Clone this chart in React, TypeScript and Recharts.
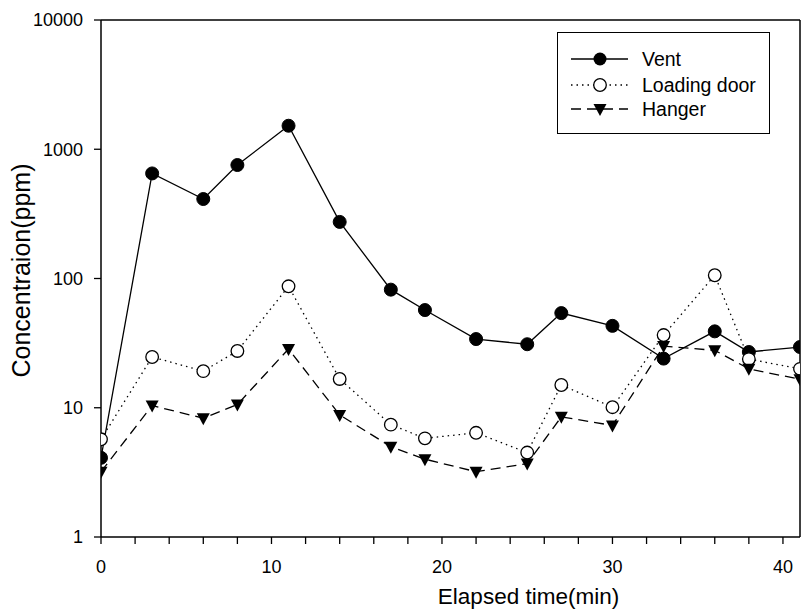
import {
  LineChart,
  Line,
  XAxis,
  YAxis,
  Legend,
  ReferenceLine,
} from "recharts";

const times = [0, 3, 6, 8, 11, 14, 17, 19, 22, 25, 27, 30, 33, 36, 38, 41];
const vent = [4.1, 650, 412, 755, 1520, 274, 82, 57, 34, 31, 54, 43, 24, 39, 27, 29.5];
const loadingDoor = [5.7, 24.7, 19.2, 27.5, 87, 16.7, 7.4, 5.8, 6.4, 4.5, 15, 10.1, 36.5, 106, 23.8, 20];
const hanger = [3.2, 10.4, 8.3, 10.6, 28.5, 8.8, 5.0, 4.0, 3.2, 3.7, 8.5, 7.3, 30, 27.8, 20, 16.6];

const xTicks = [0, 2, 4, 6, 8, 10, 12, 14, 16, 18, 20, 22, 24, 26, 28, 30, 32, 34, 36, 38, 40];
const yTicks = [1, 10, 100, 1000, 10000];

const data = times.map((t, i) => ({
  t,
  vent: vent[i],
  door: loadingDoor[i],
  hanger: hanger[i],
}));

const font = "'Liberation Sans', Arial, sans-serif";

const FilledDot = (p: any) => (
  <circle cx={p.cx} cy={p.cy} r={6.5} fill="#000" stroke="#000" />
);
const OpenDot = (p: any) => (
  <circle cx={p.cx} cy={p.cy} r={6.3} fill="#fff" stroke="#000" strokeWidth={1.3} />
);
const TriDot = (p: any) => (
  <path
    d={`M${p.cx - 6.5},${p.cy - 5} L${p.cx + 6.5},${p.cy - 5} L${p.cx},${p.cy + 7} Z`}
    fill="#000"
  />
);

const legendRows = [
  { name: "Vent", dash: undefined, marker: "filled" },
  { name: "Loading door", dash: "1.5 4", marker: "open" },
  { name: "Hanger", dash: "10 6", marker: "tri" },
];

function LegendBox() {
  return (
    <div
      style={{
        width: 213,
        height: 102,
        border: "1.3px solid #000",
        boxSizing: "border-box",
        background: "#fff",
        position: "relative",
        fontFamily: font,
        fontSize: 19.5,
      }}
    >
      {legendRows.map((r, i) => {
        const cy = [26, 52, 76][i];
        return (
          <div key={r.name}>
            <svg
              width={60}
              height={20}
              style={{ position: "absolute", left: 13, top: cy - 10 }}
            >
              <line x1={0} y1={10} x2={57} y2={10} stroke="#000" strokeWidth={1.3} strokeDasharray={r.dash} />
              {r.marker === "filled" && <circle cx={29} cy={10} r={6.5} fill="#000" />}
              {r.marker === "open" && <circle cx={29} cy={10} r={6.3} fill="#fff" stroke="#000" strokeWidth={1.3} />}
              {r.marker === "tri" && <path d="M22.5,5 L35.5,5 L29,17 Z" fill="#000" />}
            </svg>
            <span
              style={{
                position: "absolute",
                left: 84,
                top: cy - 12,
                lineHeight: "24px",
                whiteSpace: "nowrap",
              }}
            >
              {r.name}
            </span>
          </div>
        );
      })}
    </div>
  );
}

export default function App() {
  return (
    <div style={{ position: "absolute", left: 0, top: 0, background: "#fff" }}>
      <LineChart
        width={804}
        height={610}
        data={data}
        margin={{ top: 20, right: 4, left: 0, bottom: 0 }}
        style={{ fontFamily: font }}
      >
        <XAxis
          dataKey="t"
          type="number"
          domain={[0, 41]}
          ticks={xTicks}
          interval={0}
          allowDataOverflow
          height={73}
          tickSize={7}
          tickMargin={16}
          tickFormatter={(v: number) => (v % 10 === 0 ? String(v) : "")}
          tick={{ fill: "#000", fontSize: 18, fontFamily: font }}
          tickLine={{ stroke: "#000", strokeWidth: 1.3 }}
          axisLine={{ stroke: "#000", strokeWidth: 1.5 }}
          label={{
            value: "Elapsed time(min)",
            position: "insideBottom",
            offset: 6,
            dx: 78,
            fill: "#000",
            fontSize: 22.5,
            fontFamily: font,
          }}
        />
        <YAxis
          type="number"
          scale="log"
          domain={[1, 10000]}
          ticks={yTicks}
          interval={0}
          allowDataOverflow
          width={101}
          tickSize={7}
          tickMargin={11}
          tick={{ fill: "#000", fontSize: 18, fontFamily: font }}
          tickLine={{ stroke: "#000", strokeWidth: 1.3 }}
          axisLine={{ stroke: "#000", strokeWidth: 1.5 }}
          label={{
            value: "Concentraion(ppm)",
            angle: -90,
            position: "insideLeft",
            offset: 21,
            dy: -8,
            style: { textAnchor: "middle" },
            fill: "#000",
            fontSize: 25,
            fontFamily: font,
          }}
        />
        <ReferenceLine y={10000} stroke="#000" strokeWidth={1.5} />
        <ReferenceLine x={41} stroke="#000" strokeWidth={1.5} />
        <Line
          dataKey="vent"
          name="Vent"
          stroke="#000"
          strokeWidth={1.3}
          dot={<FilledDot />}
          isAnimationActive={false}
        />
        <Line
          dataKey="door"
          name="Loading door"
          stroke="#000"
          strokeWidth={1.3}
          strokeDasharray="1.5 4"
          dot={<OpenDot />}
          isAnimationActive={false}
        />
        <Line
          dataKey="hanger"
          name="Hanger"
          stroke="#000"
          strokeWidth={1.3}
          strokeDasharray="10 6"
          dot={<TriDot />}
          isAnimationActive={false}
        />
        <Legend
          layout="horizontal"
          verticalAlign="middle"
          align="center"
          content={() => <LegendBox />}
          wrapperStyle={{ left: 557, top: 32, width: 213, height: 102 }}
        />
      </LineChart>
    </div>
  );
}
